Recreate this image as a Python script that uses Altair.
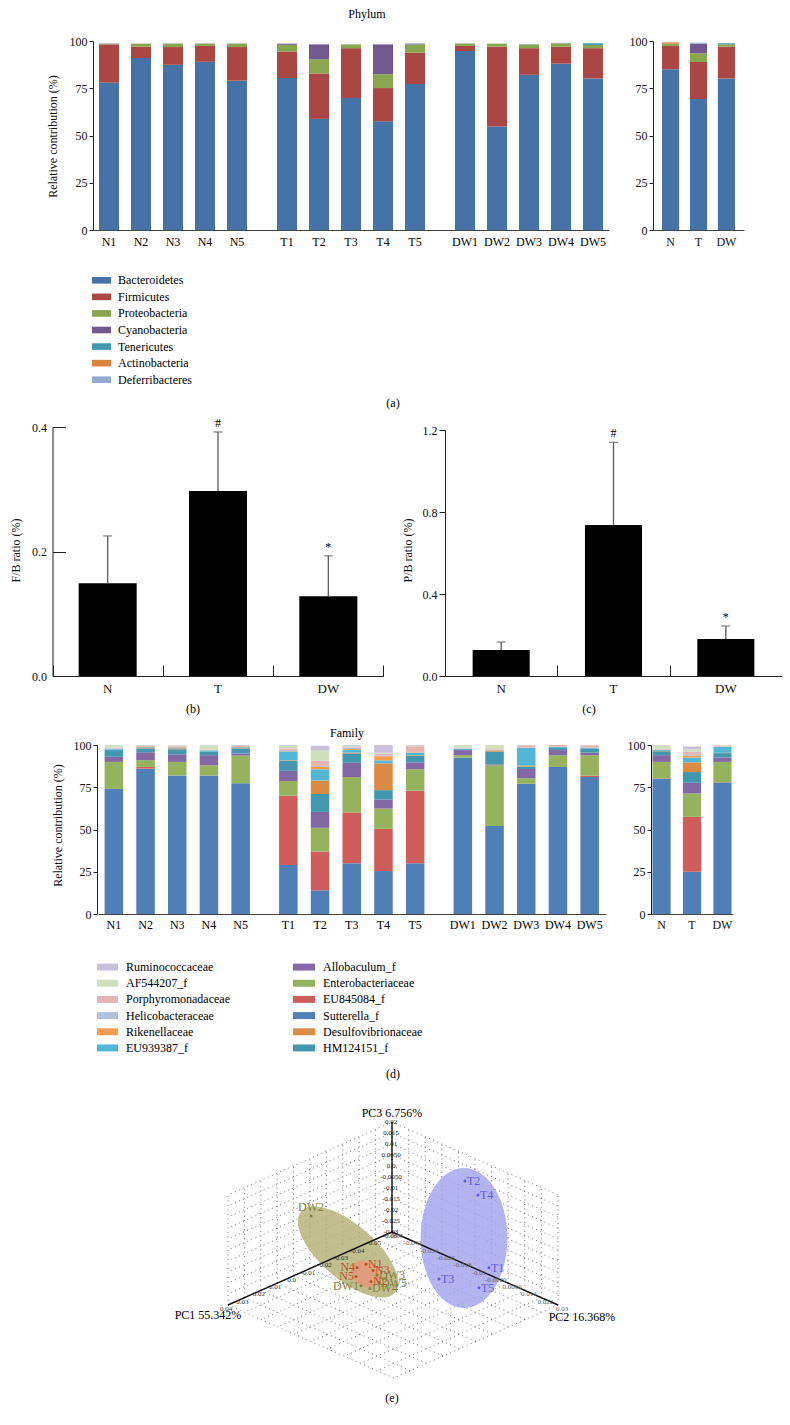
import altair as alt
import pandas as pd

FONT = "Liberation Serif"
W, H = 774, 1409

# ------------------------------------------------------------------ data
groups = ["N", "T", "DW"]
sample_names = ["N1", "N2", "N3", "N4", "N5", "T1", "T2", "T3", "T4", "T5",
                "DW1", "DW2", "DW3", "DW4", "DW5"]
sample_group = ["N"] * 5 + ["T"] * 5 + ["DW"] * 5
sample_slot = ["1", "2", "3", "4", "5"] * 3

# (a) phylum, % per sample
phyla = ["Bacteroidetes", "Firmicutes", "Proteobacteria", "Cyanobacteria",
         "Tenericutes", "Actinobacteria", "Deferribacteres"]
phylum_colors = ["#4572A7", "#AA4643", "#89A54E", "#71588F", "#4198AF", "#DB843D", "#93A9CF"]
bacteroidetes = [78.0, 91.0, 87.4, 89.0, 79.0, 80.4, 58.8, 69.8, 57.5, 77.2, 94.7, 54.7, 82.1, 88.0, 80.2]
firmicutes = [20.2, 6.0, 9.4, 8.4, 17.8, 14.0, 24.0, 26.4, 17.6, 16.6, 2.7, 42.3, 14.1, 9.0, 16.0]
proteobacteria = [0.4, 1.6, 1.8, 1.2, 1.8, 3.6, 7.6, 2.0, 7.3, 4.4, 1.2, 1.6, 2.0, 1.8, 1.7]
cyanobacteria = [0, 0, 0, 0, 0, 0.6, 7.8, 0, 15.8, 0.3, 0, 0, 0, 0, 0]
tenericutes = [0, 0, 0, 0, 0, 0, 0, 0, 0, 0, 0, 0, 0, 0, 0.9]
actinobacteria = [0, 0, 0, 0, 0, 0, 0, 0, 0, 0, 0, 0, 0, 0, 0]
deferribacteres = [0.2, 0, 0.2, 0.2, 0.2, 0, 0.2, 0, 0, 0.3, 0.2, 0, 0.2, 0.2, 0]
phylum_values = [bacteroidetes, firmicutes, proteobacteria, cyanobacteria,
                 tenericutes, actinobacteria, deferribacteres]
# group means (N, T, DW)
phylum_mean_values = [[85.1, 69.3, 80.2], [12.3, 19.6, 16.8], [1.2, 4.6, 1.2], [0, 5.1, 0],
                      [0, 0, 0.6], [0.7, 0, 0], [0, 0.5, 0]]

# (b) F/B ratio and (c) P/B ratio
fb_mean = [0.149, 0.297, 0.128]
fb_upper = [0.225, 0.392, 0.193]
pb_mean = [0.127, 0.737, 0.180]
pb_upper = [0.166, 1.140, 0.244]
sig_marks = ["", "#", "*"]

# (d) family, % per sample (stack order bottom -> top)
families = ["Sutterella_f", "EU845084_f", "Enterobacteriaceae", "Allobaculum_f", "HM124151_f",
            "Desulfovibrionaceae", "EU939387_f", "Rikenellaceae", "Helicobacteraceae",
            "Porphyromonadaceae", "AF544207_f", "Ruminococcaceae"]
family_colors = ["#4F7FB6", "#CF5E5B", "#95B35C", "#8268A4", "#4398B0", "#DC8B45",
                 "#52B6D6", "#F79D50", "#AFC1E0", "#E5B5B4", "#D0E0BC", "#C9C0DB"]
sutterella = [74, 86, 82, 82, 77.4, 29, 14, 30, 25.4, 30, 92.5, 52, 77, 87, 81]
eu845084 = [0, 1, 0, 0, 0, 41, 23, 30, 25, 43, 0, 0, 0, 0, 0.8]
enterobacteriaceae = [16, 4, 8, 6, 16.3, 8.7, 14, 21, 12, 12.6, 1.5, 36, 3.3, 7, 12.2]
allobaculum = [3, 4.7, 4.5, 6, 1.3, 6, 9.4, 8.5, 5.3, 4.1, 3, 0.5, 5.5, 3, 1.5]
hm124151 = [4, 2.3, 3, 2, 3, 6, 10.6, 5.5, 5.6, 4, 0.5, 7.5, 1.5, 1.6, 2.5]
desulfovibrionaceae = [0, 0.5, 0.5, 0, 0.3, 0.3, 8, 0.5, 15.8, 0.3, 0, 0.5, 0.5, 0, 0]
eu939387 = [0.5, 0.3, 0.5, 0.8, 0.4, 5.2, 6.6, 1.5, 1.8, 1.3, 0.3, 0.3, 10.4, 0.2, 0.3]
rikenellaceae = [0, 0.4, 0.5, 0, 0.5, 0.3, 1.5, 0.5, 2.5, 0.3, 0, 0.3, 0, 0, 0]
helicobacteraceae = [0.5, 0.2, 0.3, 0.3, 0.2, 0.5, 0.5, 0.8, 0.5, 0.3, 0.2, 0.2, 0.3, 0.2, 0.2]
porphyromonadaceae = [0.3, 0.3, 0.4, 0.2, 0.4, 1, 3.2, 0.7, 1, 3.4, 0.3, 0.3, 1.3, 1, 1.3]
af544207 = [1.5, 0.2, 0.2, 2.5, 0.1, 1.5, 5.9, 0.5, 0.5, 0.3, 1.5, 2.2, 0.1, 0, 0.1]
ruminococcaceae = [0.2, 0.1, 0.1, 0.2, 0.1, 0.5, 2.8, 0.5, 4.6, 0.4, 0.2, 0.2, 0.1, 0, 0.1]
family_values = [sutterella, eu845084, enterobacteriaceae, allobaculum, hm124151,
                 desulfovibrionaceae, eu939387, rikenellaceae, helicobacteraceae,
                 porphyromonadaceae, af544207, ruminococcaceae]
family_mean_values = [[80, 25, 77.8], [0.2, 32.5, 0.2], [9.8, 13.8, 12], [4, 6.3, 2.6],
                      [2.3, 6.4, 2.6], [0.2, 5.7, 0.2], [0.5, 2.9, 3.4], [0.2, 1, 0.2],
                      [0.3, 0.5, 0.3], [0.3, 1.9, 0.4], [2, 1.5, 0.2], [0.2, 1.6, 0.1]]
family_legend_col1 = ["Ruminococcaceae", "AF544207_f", "Porphyromonadaceae",
                      "Helicobacteraceae", "Rikenellaceae", "EU939387_f"]
family_legend_col2 = ["Allobaculum_f", "Enterobacteriaceae", "EU845084_f",
                      "Sutterella_f", "Desulfovibrionaceae", "HM124151_f"]

# (e) PCA scores
pca_names = ["N1", "N2", "N3", "N4", "N5", "T1", "T2", "T3", "T4", "T5",
             "DW1", "DW2", "DW3", "DW4", "DW5"]
pca_group = ["N"] * 5 + ["T"] * 5 + ["DW"] * 5
pc1 = [0.02, 0.02, 0.02, 0.02, 0.02, -0.045, -0.045, -0.035, -0.045, -0.045,
       0.02, 0.02, 0.02, 0.02, 0.02]
pc2 = [0.0007, 0.0031, 0.0041, -0.0036, -0.0041, 0.0086, -0.003, -0.0076, 0.0033, 0.0038,
       -0.0017, -0.0258, 0.006, 0.0026, 0.007]
pc3 = [0.0029, -0.0039, 0.0015, -0.0003, -0.0046, -0.017, 0.0177, -0.0255, 0.0139, -0.028,
       -0.0078, 0.0138, 0.0001, -0.0073, -0.0028]
pc1_tick_labels = ["-0.06", "-0.05", "-0.04", "-0.03", "-0.02", "-0.01", "0.0", "0.01", "0.02", "0.03", "0.04"]
pc2_tick_labels = ["-0.05", "-0.042", "-0.034", "-0.026", "-0.018", "-0.01", "-0.0020", "0.0060", "0.014", "0.022", "0.03"]
pc3_tick_labels = ["-0.03", "-0.025", "-0.02", "-0.015", "-0.01", "-0.0050", "0.0", "0.0050", "0.01", "0.015", "0.02"]
# group ellipses: centre (projected)
ellipse_group = ["T", "DW", "N"]
ellipse_u = [72, -44, -26]
ellipse_v = [-6, -20, -42]

# ------------------------------------------------------------------ helpers
def note(txt, x, y, size=12, **kw):
    return alt.Chart(pd.DataFrame({"t": [txt]})).mark_text(
        font=FONT, fontSize=size, color="black", **kw
    ).encode(x=alt.value(x - 8), y=alt.value(y - 8), text="t:N")


def long_samples(names, values):
    rows = []
    for k, (nm, vals) in enumerate(zip(names, values)):
        for s, g, sl, v in zip(sample_names, sample_group, sample_slot, vals):
            rows.append(dict(sample=s, group=g, slot=sl, cat=nm, k=k, value=v))
    return pd.DataFrame(rows)


def long_means(names, values):
    rows = []
    for k, (nm, vals) in enumerate(zip(names, values)):
        for g, v in zip(groups, vals):
            rows.append(dict(group=g, cat=nm, k=k, value=v))
    return pd.DataFrame(rows)


df_samples = pd.DataFrame({"sample": sample_names, "group": sample_group, "slot": sample_slot})
SLOTS = ["1", "2", "3", "4", "5"]


def sample_panel(df, cats, colors, xr, xpi, xo_pi, yr, y_axis_x, title_x, title_y, label_y, bottom):
    xs = dict(domain=groups, range=xr, paddingInner=xpi, paddingOuter=0)
    xos = dict(domain=SLOTS, paddingInner=xo_pi, paddingOuter=xo_pi / 2)
    ys = dict(domain=[0, 100], range=yr, nice=False, zero=True)
    bars = alt.Chart(df).transform_stack(
        stack="value", groupby=["sample"], as_=["v0", "v1"],
        sort=[alt.SortField("k", order="ascending")]
    ).mark_bar().encode(
        x=alt.X("group:N", scale=alt.Scale(**xs),
                axis=alt.Axis(orient="bottom", offset=bottom - H, labels=False, ticks=False,
                              tickSize=0, title=None, domainColor="#444")),
        xOffset=alt.XOffset("slot:N", scale=alt.Scale(**xos)),
        y=alt.Y("v0:Q", scale=alt.Scale(**ys),
                axis=alt.Axis(orient="left", offset=-y_axis_x, values=[0, 25, 50, 75, 100],
                              tickSize=4, labelPadding=2, title="Relative contribution (%)",
                              titleX=title_x - y_axis_x, titleY=title_y, titleAlign="center",
                              titleBaseline="middle", titleAngle=270)),
        y2="v1:Q",
        color=alt.Color("cat:N", scale=alt.Scale(domain=cats, range=colors), legend=None),
    )
    labels = alt.Chart(df_samples).mark_text(font=FONT, fontSize=12, baseline="middle").encode(
        x=alt.X("group:N", scale=alt.Scale(**xs), axis=None),
        xOffset=alt.XOffset("slot:N", scale=alt.Scale(type="point", domain=SLOTS, padding=0.5)),
        y=alt.value(label_y),
        text="sample:N",
    )
    return [bars, labels]


def mean_panel(df, cats, colors, xr, pi, po, yr, y_axis_x, bottom, label_pad):
    return alt.Chart(df).transform_stack(
        stack="value", groupby=["group"], as_=["v0", "v1"],
        sort=[alt.SortField("k", order="ascending")]
    ).mark_bar().encode(
        x=alt.X("group:N", scale=alt.Scale(domain=groups, range=xr, paddingInner=pi, paddingOuter=po),
                axis=alt.Axis(orient="bottom", offset=bottom - H, ticks=False, tickSize=0,
                              labelPadding=label_pad, labelAngle=0, title=None, domainColor="#444")),
        y=alt.Y("v0:Q", scale=alt.Scale(domain=[0, 100], range=yr, nice=False),
                axis=alt.Axis(orient="left", offset=-y_axis_x, values=[0, 25, 50, 75, 100],
                              tickSize=4, labelPadding=2, title=None)),
        y2="v1:Q",
        color=alt.Color("cat:N", scale=alt.Scale(domain=cats, range=colors), legend=None),
    )


def ratio_panel(mean, upper, xr, bar_pi, yr, ydom, yvals, y_axis_x, title, title_x, title_y,
                inward_ticks, bottom):
    df = pd.DataFrame({"group": groups, "mean": mean, "upper": upper, "sig": sig_marks})
    xb = alt.Scale(domain=groups, range=xr, paddingInner=bar_pi, paddingOuter=bar_pi / 2)
    xa = dict(domain=groups, range=xr, paddingInner=0, paddingOuter=0)
    ys = dict(domain=ydom, range=yr, nice=False, zero=True)
    if inward_ticks:
        yaxis = alt.Axis(orient="left", offset=-y_axis_x, values=yvals, format=".1f", ticks=False,
                         tickSize=0, labelPadding=6, title=title, titleX=title_x - y_axis_x,
                         titleY=title_y, titleAlign="center", titleBaseline="middle", titleAngle=270)
    else:
        yaxis = alt.Axis(orient="left", offset=-y_axis_x, values=yvals, format=".1f", tickSize=6,
                         labelPadding=2, title=title, titleX=title_x - y_axis_x,
                         titleY=title_y, titleAlign="center", titleBaseline="middle", titleAngle=270)
    base = alt.Chart(df)
    bars = base.mark_bar(color="black").encode(
        x=alt.X("group:N", scale=xb, axis=None),
        y=alt.Y("mean:Q", scale=alt.Scale(**ys), axis=yaxis),
    )
    err = base.mark_rule(color="#5a5a5a", strokeWidth=1.3).encode(
        x=alt.X("group:N", scale=alt.Scale(**xa),
                axis=alt.Axis(orient="bottom", offset=bottom - H, ticks=False, tickSize=0,
                              labelPadding=6, labelAngle=0, labelFontSize=13, title=None)),
        y=alt.Y("mean:Q", scale=alt.Scale(**ys), axis=None),
        y2="upper:Q",
    )
    cap = base.mark_tick(color="#5a5a5a", size=9, thickness=1.3, orient="horizontal").encode(
        x=alt.X("group:N", scale=alt.Scale(**xa), axis=None),
        y=alt.Y("upper:Q", scale=alt.Scale(**ys), axis=None),
    )
    sig = base.mark_text(font=FONT, fontSize=12, dy=-9, baseline="middle").encode(
        x=alt.X("group:N", scale=alt.Scale(**xa),
                axis=alt.Axis(orient="top", offset=-bottom, tickBand="extent", ticks=True,
                              tickSize=11, labels=False, domain=False, title=None)),
        y=alt.Y("upper:Q", scale=alt.Scale(**ys), axis=None),
        text="sig:N",
    )
    layers = [bars, err, cap, sig]
    if inward_ticks:
        layers.append(base.mark_point(opacity=0).encode(
            y=alt.Y("mean:Q", scale=alt.Scale(**ys),
                    axis=alt.Axis(orient="right", offset=y_axis_x - W, values=yvals, tickSize=13,
                                  labels=False, domain=False, title=None))))
    return layers


def legend_column(names, colors_for, x_sw, x_txt, yr, pad):
    df = pd.DataFrame({"name": names, "color": colors_for})
    ys = alt.Scale(domain=names, range=yr, paddingInner=pad, paddingOuter=pad / 2)
    sw = alt.Chart(df).mark_rect().encode(
        x=alt.value(x_sw[0] - 8), x2=alt.value(x_sw[1] - 8),
        y=alt.Y("name:N", scale=ys, axis=None),
        color=alt.Color("name:N", scale=alt.Scale(domain=names, range=colors_for), legend=None),
    )
    tx = alt.Chart(df).mark_text(font=FONT, fontSize=12, align="left", baseline="middle").encode(
        x=alt.value(x_txt - 8),
        y=alt.Y("name:N", scale=alt.Scale(domain=names, range=yr, paddingInner=pad,
                                          paddingOuter=pad / 2), axis=None),
        text="name:N",
    )
    return [sw, tx]


layers = []

# ------------------------------------------------------------------ (a)
layers.append(note("Phylum", 367, 14, 12))
dfA = long_samples(phyla, phylum_values)
layers += sample_panel(dfA, phyla, phylum_colors, [85, 601], 18 / 178, 0.375,
                       [222, 33], 85, 52 - 8, 128, 234, 222)
dfAm = long_means(phyla, phylum_mean_values)
layers.append(mean_panel(dfAm, phyla, phylum_colors, [645, 736], 0.387, 0.161 * 2,
                         [222, 33], 645, 222, 6))
layers += legend_column(phyla, phylum_colors, (92, 111), 118, [264, 380], 0.6)
layers.append(note("(a)", 393, 403, 12))

# ------------------------------------------------------------------ (b), (c)
layers += ratio_panel(fb_mean, fb_upper, [44.5, 375.5], 0.474, [668, 419], [0, 0.4],
                      [0, 0.2, 0.4], 44.5, "F/B ratio (%)", 7, 542, True, 668)
layers += ratio_panel(pb_mean, pb_upper, [437, 774], 0.492, [668, 422], [0, 1.2],
                      [0, 0.4, 0.8, 1.2], 437, "P/B ratio (%)", 399, 542, False, 668)
layers.append(note("(b)", 193, 709, 12))
layers.append(note("(c)", 589, 709, 12))

# ------------------------------------------------------------------ (d)
layers.append(note("Family", 347, 733, 12))
dfD = long_samples(families, family_values)
layers += sample_panel(dfD, families, family_colors, [90, 597.5], 16 / 174.5, 0.416,
                       [906, 737], 89, 57 - 8, 817, 917, 906)
dfDm = long_means(families, family_mean_values)
layers.append(mean_panel(dfDm, families, family_colors, [643, 725], 0.403, 0.048,
                         [906, 737], 643, 906, 5))
fam_color = dict(zip(families, family_colors))
layers += legend_column(family_legend_col1, [fam_color[n] for n in family_legend_col1],
                        (97, 118), 126, [951, 1048], 0.57)
layers += legend_column(family_legend_col2, [fam_color[n] for n in family_legend_col2],
                        (293, 315), 323, [951, 1048], 0.57)
layers.append(note("(d)", 393, 1074, 12))

# ------------------------------------------------------------------ (e) PCA
pc1_ticks = [float(t) for t in pc1_tick_labels]
pc2_ticks = [float(t) for t in pc2_tick_labels]
pc3_ticks = [float(t) for t in pc3_tick_labels]


def unit(v, ticks):
    return (v - ticks[0]) / (ticks[1] - ticks[0])


# oblique projection of the three PC axes (pixels per tick step)
UA, VA = -16.4, -7.3
UB, VB = 16.6, -7.3
VC = 11.0


def proj(a, b, c):
    return UA * a + UB * b, VA * a + VB * b + VC * c


xs_p = dict(domain=[-384, 390], range=[0, 774], nice=False, zero=False)
ys_p = dict(domain=[-185, 185], range=[1409, 1039], nice=False, zero=False)


def px(field):
    return alt.X(field, type="quantitative", scale=alt.Scale(**xs_p), axis=None)


def py(field):
    return alt.Y(field, type="quantitative", scale=alt.Scale(**ys_p), axis=None)


n = len(pc1_ticks) - 1
grid_rows = []
for i in range(n + 1):
    for p, q in [((i, 0, 0), (i, 0, n)), ((0, 0, i), (n, 0, i)),
                 ((0, i, 0), (0, i, n)), ((0, 0, i), (0, n, i)),
                 ((i, 0, 0), (i, n, 0)), ((0, i, 0), (n, i, 0))]:
        u1, v1 = proj(*p)
        u2, v2 = proj(*q)
        grid_rows.append(dict(u1=u1, v1=v1, u2=u2, v2=v2))
df_grid = pd.DataFrame(grid_rows)
layers.append(alt.Chart(df_grid).mark_rule(color="#666", strokeWidth=0.9, strokeDash=[1, 3.5]).encode(
    x=px("u1"), y=py("v1"), x2="u2:Q", y2="v2:Q"))

ell_shape_T = "M -0.62,0 A 0.62,1 0 1,0 0.62,0 A 0.62,1 0 1,0 -0.62,0 Z"
ell_shape_DW = "M -1,0 A 1,0.44 0 1,0 1,0 A 1,0.44 0 1,0 -1,0 Z"
ell_shape_N = "M -1,0 A 1,0.78 0 1,0 1,0 A 1,0.78 0 1,0 -1,0 Z"
df_ell = pd.DataFrame({"group": ellipse_group, "u": ellipse_u, "v": ellipse_v})
for g, shape, size, ang, col in [("T", ell_shape_T, 140 ** 2, 0, "#A7A7F1"),
                                 ("DW", ell_shape_DW, 124 ** 2, 41, "#B7B47B"),
                                 ("N", ell_shape_N, 32 ** 2, 30, "#E3987A")]:
    layers.append(alt.Chart(df_ell).transform_filter(alt.datum.group == g).mark_point(
        shape=shape, size=size, angle=ang, filled=True, color=col, opacity=0.85, strokeWidth=0
    ).encode(x=px("u"), y=py("v")))

ax_rows = []
for end in [(n, 0, 0), (0, n, 0), (0, 0, n)]:
    u2, v2 = proj(*end)
    ax_rows.append(dict(u1=0, v1=0, u2=u2, v2=v2))
layers.append(alt.Chart(pd.DataFrame(ax_rows)).mark_rule(color="#111", strokeWidth=1.4).encode(
    x=px("u1"), y=py("v1"), x2="u2:Q", y2="v2:Q"))

tick_rows = []
for i, t in enumerate(pc1_tick_labels):
    u, v = proj(i, 0, 0)
    tick_rows.append(dict(t=t, u=u - 2, v=v - 4, ax="1"))
for i, t in enumerate(pc2_tick_labels):
    u, v = proj(0, i, 0)
    tick_rows.append(dict(t=t, u=u + 4, v=v - 4, ax="2"))
for i, t in enumerate(pc3_tick_labels):
    u, v = proj(0, 0, i)
    tick_rows.append(dict(t=t, u=u - 1, v=v, ax="3"))
df_ticks = pd.DataFrame(tick_rows)
layers.append(alt.Chart(df_ticks).mark_text(font=FONT, fontSize=7, baseline="middle").encode(
    x=px("u"), y=py("v"), text="t:N",
    color=alt.Color("ax:N", scale=alt.Scale(domain=["1", "2", "3"], range=["#333", "#666", "#222"]),
                    legend=None)))

pts = []
for nm, g, a1, a2, a3 in zip(pca_names, pca_group, pc1, pc2, pc3):
    u, v = proj(unit(a1, pc1_ticks), unit(a2, pc2_ticks), unit(a3, pc3_ticks))
    pts.append(dict(name=nm, group=g, u=u, v=v))
df_pts = pd.DataFrame(pts)
grp_colors = alt.Scale(domain=["T", "DW", "N"], range=["#5C5CDE", "#85833A", "#C0502B"])
layers.append(alt.Chart(df_pts).mark_circle(size=9, opacity=1).encode(
    x=px("u"), y=py("v"), color=alt.Color("group:N", scale=grp_colors, legend=None)))

right_labels = ["T1", "T2", "T3", "T4", "T5", "N1", "N2", "N3", "DW3", "DW4", "DW5"]
left_labels = ["N4", "N5", "DW1"]
top_labels = ["DW2"]
for names, kw in [(right_labels, dict(align="left", dx=2)),
                  (left_labels, dict(align="right", dx=-2)),
                  (top_labels, dict(align="center", dy=-9))]:
    layers.append(alt.Chart(df_pts).transform_filter(
        alt.FieldOneOfPredicate(field="name", oneOf=names)
    ).mark_text(font=FONT, fontSize=12, baseline="middle", **kw).encode(
        x=px("u"), y=py("v"), text="name:N",
        color=alt.Color("group:N", scale=grp_colors, legend=None)))

layers.append(note("PC3 6.756%", 392, 1113, 12))
layers.append(note("PC1 55.342%", 208, 1315, 12))
layers.append(note("PC2 16.368%", 582, 1317, 12))
layers.append(note("(e)", 392, 1398, 12))

chart = alt.layer(*layers).resolve_scale(
    x="independent", y="independent", color="independent", xOffset="independent"
).properties(
    width=W, height=H, padding=0, autosize=alt.AutoSizeParams(type="none")
).configure_view(stroke=None).configure_axis(
    labelFont=FONT, titleFont=FONT, labelFontSize=12, titleFontSize=12, titleFontWeight="normal",
    labelColor="#111", titleColor="#111", domainColor="#222", tickColor="#222", grid=False,
    domainWidth=1, tickWidth=1
).configure_text(font=FONT)

chart.save("out.html", embed_options={"renderer": "svg", "actions": False})
